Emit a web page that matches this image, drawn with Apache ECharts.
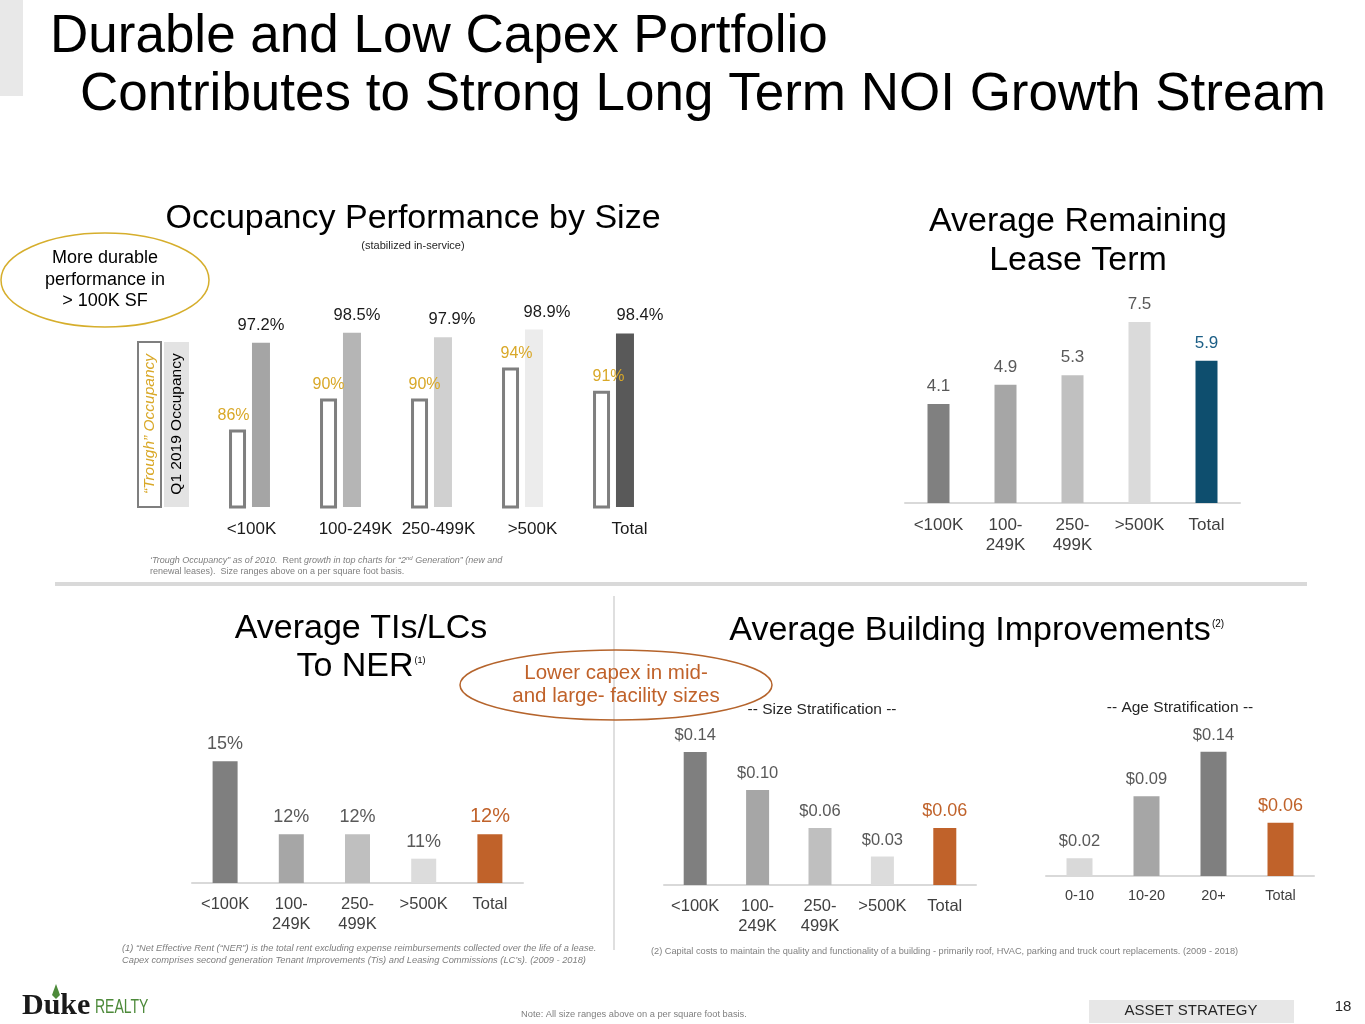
<!DOCTYPE html>
<html><head><meta charset="utf-8">
<script src="https://cdn.jsdelivr.net/npm/echarts@6/dist/echarts.min.js"></script>
<style>html,body{margin:0;padding:0;background:#fff}#c{width:1365px;height:1024px}</style>
</head><body><div id="c"></div>
<script>
// ---------- data ----------
const occCategories = ['<100K', '100-249K', '250-499K', '>500K', 'Total'];
const troughOccupancy = [86, 90, 90, 94, 91];
const q1Occupancy = [97.2, 98.5, 97.9, 98.9, 98.4];

const leaseCategories = ['<100K', '100-\n249K', '250-\n499K', '>500K', 'Total'];
const leaseTermYears = [4.1, 4.9, 5.3, 7.5, 5.9];

const tiCategories = ['<100K', '100-\n249K', '250-\n499K', '>500K', 'Total'];
const tiToNerPct = [15, 12, 12, 11, 12];

const sizeCategories = ['<100K', '100-\n249K', '250-\n499K', '>500K', 'Total'];
const sizeCapex = [0.14, 0.10, 0.06, 0.03, 0.06];

const ageCategories = ['0-10', '10-20', '20+', 'Total'];
const ageCapex = [0.02, 0.09, 0.14, 0.06];

// ---------- styles ----------
const FONT = "'Liberation Sans', Arial, Helvetica, sans-serif";
const ORANGE = '#c0622a';
const occColors = ['#a5a5a5', '#b5b5b5', '#d0d0d0', '#ececec', '#595959'];
const occLabelDx = [0, 5, 9, 13, 15];
const troughLabelDx = [-4, 0, 5, 6, 7];
const leaseColors = ['#808080', '#a6a6a6', '#c0c0c0', '#dadada', '#0e4e6e'];
const tiColors = ['#7f7f7f', '#a6a6a6', '#bfbfbf', '#dcdcdc', ORANGE];
const sizeColors = ['#7f7f7f', '#a6a6a6', '#bfbfbf', '#dcdcdc', ORANGE];
const ageColors = ['#d9d9d9', '#a6a6a6', '#7f7f7f', ORANGE];

const chart = echarts.init(document.getElementById('c'), null, {renderer: 'canvas', width: 1365, height: 1024});

function T(text, x, y, size, color, o) {
  o = o || {};
  const st = {
    text: text, fontSize: size, fontFamily: o.font || FONT, fontWeight: o.weight || 'normal',
    fontStyle: o.style || 'normal', fill: color,
    align: o.align || 'center', textAlign: o.align || 'center',
    verticalAlign: 'middle', textVerticalAlign: 'middle'
  };
  if (o.lh) st.lineHeight = o.lh;
  if (o.rich) st.rich = o.rich;
  return {type: 'text', x: x, y: y, rotation: o.rotation || 0, scaleX: o.scaleX || 1, z: 10, style: st};
}

function catAxis(gi, data, extra, showLine) {
  return {
    type: 'category', gridIndex: gi, data: data,
    axisTick: {show: false},
    axisLine: {show: showLine, lineStyle: {color: '#d9d9d9', width: 2}},
    axisLabel: Object.assign({color: '#404040', fontSize: 16.5, fontFamily: FONT, lineHeight: 20, margin: 11, interval: 0}, extra || {}),
    splitLine: {show: false}
  };
}
function valAxis(gi, min, max) {
  return {type: 'value', gridIndex: gi, min: min, max: max, show: false, splitLine: {show: false}};
}
function colored(values, colors) {
  return values.map((v, i) => ({value: v, itemStyle: {color: colors[i]}}));
}

const grids = [
  {left: 204, top: 321, width: 455, height: 186},
  {left: 905, top: 310, width: 335, height: 193},
  {left: 192, top: 737, width: 331, height: 146},
  {left: 664, top: 733, width: 312, height: 152},
  {left: 1046, top: 734, width: 268, height: 142}
].map(g => Object.assign({containLabel: false, outerBoundsMode: 'none'}, g));

const occData = colored(q1Occupancy, occColors);
occData.forEach((d, i) => { d.label = {offset: [occLabelDx[i], 0]}; });
const troughData = troughOccupancy.map((v, i) => ({value: v, label: {offset: [troughLabelDx[i], 0]}}));

// total labels styled separately
const leaseData = colored(leaseTermYears, leaseColors);
leaseData[leaseData.length - 1].label = {color: '#1b5e86'};
const tiData = colored(tiToNerPct, tiColors);
tiData[tiData.length - 1].label = {color: ORANGE, fontSize: 20};
const sizeData = colored(sizeCapex, sizeColors);
sizeData[sizeData.length - 1].label = {color: ORANGE, fontSize: 18};
const ageData = colored(ageCapex, ageColors);
ageData[ageData.length - 1].label = {color: ORANGE, fontSize: 18};

const occLabelShift = [4, 30, 14, 20, 32];
const occRich = {};
occLabelShift.forEach((p, i) => { occRich['c' + i] = {padding: [0, 0, 0, p], fontSize: 17, color: '#1a1a1a', fontFamily: FONT}; });

const option = {
  animation: false,
  backgroundColor: '#ffffff',
  textStyle: {fontFamily: FONT},
  grid: grids,
  xAxis: [
    catAxis(0, occCategories, {margin: 12, formatter: (v, i) => '{c' + i + '|' + v + '}', rich: occRich}, false),
    catAxis(1, leaseCategories, {fontSize: 17, margin: 12}, true),
    catAxis(2, tiCategories, {margin: 11}, true),
    catAxis(3, sizeCategories, {margin: 11}, true),
    catAxis(4, ageCategories, {fontSize: 14.5, margin: 10}, true)
  ],
  yAxis: [
    valAxis(0, 76, 100),
    valAxis(1, 0, 8),
    valAxis(2, 10, 16),
    valAxis(3, 0, 0.16),
    valAxis(4, 0, 0.16)
  ],
  series: [
    {
      name: '"Trough" Occupancy', type: 'bar', xAxisIndex: 0, yAxisIndex: 0,
      barWidth: 17, barGap: '35%', data: troughData,
      itemStyle: {color: '#ffffff', borderColor: '#7f7f7f', borderWidth: 3},
      label: {show: true, position: 'top', distance: 6, color: '#d9a828', fontSize: 16, formatter: p => p.value + '%'}
    },
    {
      name: 'Q1 2019 Occupancy', type: 'bar', xAxisIndex: 0, yAxisIndex: 0,
      barWidth: 18, data: occData,
      label: {show: true, position: 'top', distance: 9, color: '#1a1a1a', fontSize: 16.5, formatter: p => p.value + '%'}
    },
    {
      name: 'Average Remaining Lease Term', type: 'bar', xAxisIndex: 1, yAxisIndex: 1,
      barWidth: 22, data: leaseData,
      label: {show: true, position: 'top', distance: 9, color: '#595959', fontSize: 17, formatter: p => p.value.toFixed(1)}
    },
    {
      name: 'Average TIs/LCs To NER', type: 'bar', xAxisIndex: 2, yAxisIndex: 2,
      barWidth: 25, data: tiData,
      label: {show: true, position: 'top', distance: 8, color: '#595959', fontSize: 18, formatter: p => p.value + '%'}
    },
    {
      name: 'Size Stratification', type: 'bar', xAxisIndex: 3, yAxisIndex: 3,
      barWidth: 23, data: sizeData,
      label: {show: true, position: 'top', distance: 8, color: '#595959', fontSize: 16.5, formatter: p => '$' + p.value.toFixed(2)}
    },
    {
      name: 'Age Stratification', type: 'bar', xAxisIndex: 4, yAxisIndex: 4,
      barWidth: 26, data: ageData,
      label: {show: true, position: 'top', distance: 8, color: '#595959', fontSize: 16.5, formatter: p => '$' + p.value.toFixed(2)}
    }
  ],
  graphic: [
    // title
    {type: 'rect', shape: {x: 0, y: 0, width: 23, height: 96}, style: {fill: '#e8e8e8'}},
    T('Durable and Low Capex Portfolio', 50, 37, 53, '#000', {align: 'left'}),
    T('Contributes to Strong Long Term NOI Growth Stream', 80, 95, 53, '#000', {align: 'left'}),

    // occupancy section
    T('Occupancy Performance by Size', 413, 219, 34, '#000'),
    T('(stabilized in-service)', 413, 246, 11, '#262626'),
    {type: 'ellipse', shape: {cx: 105, cy: 280, rx: 104, ry: 47}, style: {fill: 'none', stroke: '#d6ae2c', lineWidth: 1.5}},
    T('More durable\nperformance in\n> 100K SF', 105, 280, 18, '#000', {lh: 21.5}),
    {type: 'rect', shape: {x: 138, y: 342, width: 23, height: 165}, style: {fill: '#fff', stroke: '#7f7f7f', lineWidth: 2}},
    T('\u201cTrough\u201d Occupancy', 150, 424, 15.5, '#d9a828', {rotation: Math.PI / 2, style: 'italic'}),
    {type: 'rect', shape: {x: 164, y: 342, width: 25, height: 165}, style: {fill: '#e3e3e3'}},
    T('Q1 2019 Occupancy', 177, 424, 15.5, '#000', {rotation: Math.PI / 2}),
    T('{i|\u2018Trough Occupancy\u201d as of 2010.}{n|  Rent }{i|growth in top charts for \u201c2}{s|nd}{i| Generation\u201d (new and}\n{n|renewal leases).  Size ranges above on a per square foot basis.}',
      150, 566, 9, '#7f7f7f', {align: 'left', lh: 11,
        rich: {i: {fontStyle: 'italic', fontSize: 9, color: '#7f7f7f'}, n: {fontSize: 9, color: '#7f7f7f'}, s: {fontSize: 6, verticalAlign: 'top', color: '#7f7f7f', fontStyle: 'italic'}}}),

    // lease term
    T('Average Remaining\nLease Term', 1078, 241, 34, '#000', {lh: 39}),

    // dividers
    {type: 'rect', shape: {x: 55, y: 582, width: 1252, height: 4}, style: {fill: '#d9d9d9'}},
    {type: 'line', shape: {x1: 614, y1: 596, x2: 614, y2: 950}, style: {stroke: '#d4d4d4', lineWidth: 1.5}},

    // TIs/LCs
    T('Average TIs/LCs', 361, 629, 34, '#000'),
    T('To NER', 355, 667, 34, '#000'),
    T('(1)', 420, 661, 9, '#000'),
    {type: 'ellipse', shape: {cx: 616, cy: 685, rx: 156, ry: 35}, style: {fill: 'none', stroke: '#b5642c', lineWidth: 1.5}},
    T('Lower capex in mid-\nand large- facility sizes', 616, 685, 20.5, ORANGE, {lh: 23}),

    // building improvements
    T('Average Building Improvements', 970, 631, 34, '#000'),
    T('(2)', 1218, 624, 10, '#000'),
    T('-- Size Stratification --', 822, 710, 15.5, '#262626'),
    T('-- Age Stratification --', 1180, 708, 15.5, '#262626'),

    // footnotes
    T('(1) \u201cNet Effective Rent (\u201cNER\u201d) is the total rent excluding expense reimbursements collected over the life of a lease.\nCapex comprises second generation Tenant Improvements (Tis) and Leasing Commissions (LC\u2019s). (2009 - 2018)',
      122, 954, 9.3, '#7f7f7f', {align: 'left', style: 'italic', lh: 12}),
    T('(2) Capital costs to maintain the quality and functionality of a building - primarily roof, HVAC, parking and truck court replacements. (2009 - 2018)',
      651, 951, 9.2, '#7f7f7f', {align: 'left'}),
    T('Note: All size ranges above on a per square foot basis.', 521, 1014, 9.3, '#7f7f7f', {align: 'left'}),

    // footer
    {type: 'polygon', shape: {points: [[52, 995], [56, 984], [60, 995], [56, 999]]}, style: {fill: '#4d8a3a'}},
    T('Duke', 22, 1006, 30, '#1a1a1a', {align: 'left', weight: 'bold', font: "'Liberation Serif', 'DejaVu Serif', serif"}),
    T('REALTY', 95, 1007, 20, '#4d8a3a', {align: 'left', scaleX: 0.7}),
    {type: 'rect', shape: {x: 1089, y: 1000, width: 205, height: 23}, style: {fill: '#e7e7e7'}},
    T('ASSET STRATEGY', 1191, 1011, 15, '#262626'),
    T('18', 1343, 1007, 15, '#262626')
  ]
};
chart.setOption(option);
</script>
</body></html>
